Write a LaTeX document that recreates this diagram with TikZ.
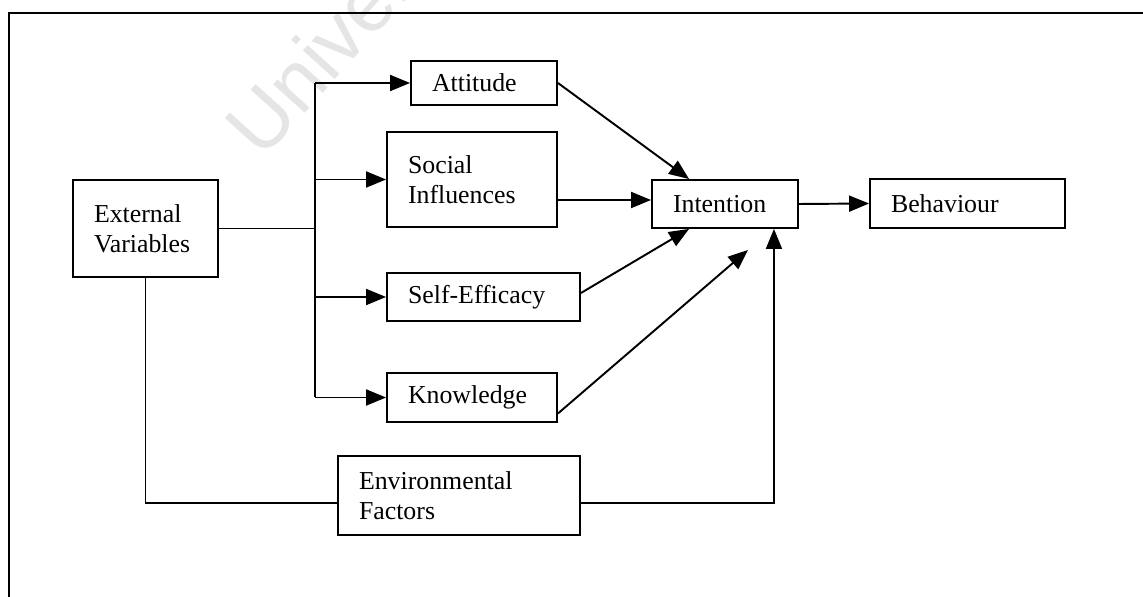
\documentclass[tikz,border=0pt]{standalone}
\usepackage{fontspec}
\setmainfont{Liberation Serif}
\newfontfamily\wmfont{Liberation Sans}
\usetikzlibrary{arrows.meta}

\begin{document}
\begin{tikzpicture}[x=0.02cm, y=-0.02cm,
  box/.style={draw, line width=1.1pt, inner xsep=0.42cm, inner ysep=0pt, align=left,
    font=\fontsize{14.7}{17}\selectfont},
  link/.style={line width=1.1pt},
  arr/.style={line width=1.1pt, -{Triangle[length=0.4cm, width=0.32cm]}}]
\useasboundingbox (0,0) rectangle (1143,597);
\clip (0,0) rectangle (1143,597);
\fill[white] (0,0) rectangle (1143,597);
\node[rotate=48, text=black!10, font=\wmfont\fontsize{46}{46}\selectfont, anchor=base west] (wm) at (258,165) {University};
\draw[line width=0.8pt] (1200,13) -- (9,13) -- (9,650);

\node[box, text width=2.06cm, minimum height=1.94cm] (ext) at (145.5,228.5) {External\\Variables};
\node[box, text width=2.08cm, minimum height=0.88cm] (att) at (484,83) {Attitude};
\node[box, text width=2.56cm, minimum height=1.9cm] (soc) at (472,179.5) {Social\\Influences};
\node[box, text width=3.02cm, minimum height=0.96cm] (self) at (483.5,297) {Self-Efficacy};
\node[box, text width=2.56cm, minimum height=0.98cm] (know) at (472,397.5) {Knowledge};
\node[box, text width=2.08cm, minimum height=0.96cm] (int) at (725,204) {Intention};
\node[box, text width=3.06cm, minimum height=0.98cm] (beh) at (967.5,203.5) {Behaviour};
\node[box, text width=4cm, minimum height=1.58cm] (env) at (459,495.5) {Environmental\\Factors};

\coordinate (spine) at (315,83);
\coordinate (knowtip) at (748,250);
\draw[link] (ext.east) -- (ext.east -| spine);
\draw[link] (att.west -| spine) -- (know.west -| spine);
\draw[arr] (att.west -| spine) -- (att.west);
\draw[arr] (soc.west -| spine) -- (soc.west);
\draw[arr] (self.west -| spine) -- (self.west);
\draw[arr] (know.west -| spine) -- (know.west);

\draw[arr] (att.east) -- ([xshift=0.76cm]int.north west);
\draw[arr] ([yshift=0.08cm]int.west -| soc.east) -- ([yshift=0.08cm]int.west);
\draw[arr] ([yshift=0.08cm]self.east) -- ([xshift=0.76cm]int.south west);
\draw[arr] ([yshift=-0.32cm]know.east) -- (knowtip);
\draw[arr] (int.east) -- (beh.west);

\draw[link] (ext.south) |- ([yshift=-0.15cm]env.west);
\draw[arr] ([yshift=-0.15cm]env.east) -| ([xshift=-0.5cm]int.south east);
\end{tikzpicture}
\end{document}
